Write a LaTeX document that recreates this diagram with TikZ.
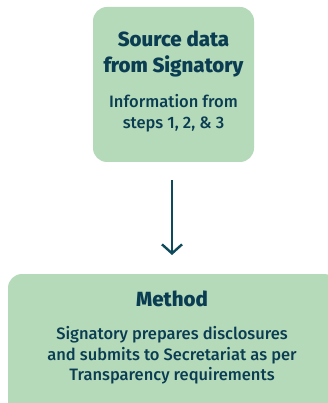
\documentclass[tikz,border=0pt]{standalone}
\usepackage{fontspec}
\setmainfont{Fira Sans}[UprightFont=* Medium, BoldFont=* ExtraBold]
\usetikzlibrary{arrows.meta}
\definecolor{boxfill}{HTML}{B5DABA}
\definecolor{ink}{HTML}{0B3D52}
\definecolor{arrowc}{HTML}{0E4A5C}
\tikzset{
  box/.style={fill=boxfill, rounded corners=14pt, inner sep=0pt},
  ttl/.style={anchor=base, text=ink, font=\fontsize{20.5}{25}\selectfont\bfseries, inner sep=0pt},
  bdy/.style={anchor=base, text=ink, font=\fontsize{16.5}{21}\selectfont, inner sep=0pt},
  flow/.style={draw=arrowc, line width=2.4pt, -{Straight Barb[length=9pt,width=20pt,line width=2.4pt]}}
}
\begin{document}
\begin{tikzpicture}[x=1pt,y=-1pt]
\useasboundingbox (0,0) rectangle (328,403);
\begin{scope}
\clip (0,0) rectangle (328,403);
\node[box, minimum width=161pt, minimum height=155pt] (src) at (173.5,84.5) {};
\node[box, minimum width=330pt, minimum height=150pt] (meth) at (173,349) {};
\end{scope}
\node[ttl] (t1) at (173.5,47) {Source data};
\node[ttl] (t2) at (173.5,72.5) {from Signatory};
\node[bdy] (b1) at (173.5,107.3) {Information from};
\node[bdy] (b2) at (173.5,128.3) {steps 1, 2, \& 3};
\node[ttl] (m1) at (172,306.5) {Method};
\node[bdy] (m2) at (172,339) {Signatory prepares disclosures};
\node[bdy] (m3) at (172,360) {and submits to Secretariat as per};
\node[bdy] (m4) at (172,380) {Transparency requirements};
\coordinate (a1) at (172,180);
\coordinate (a2) at (172,255);
\draw[flow] (a1) -- (a2);
\end{tikzpicture}
\end{document}
